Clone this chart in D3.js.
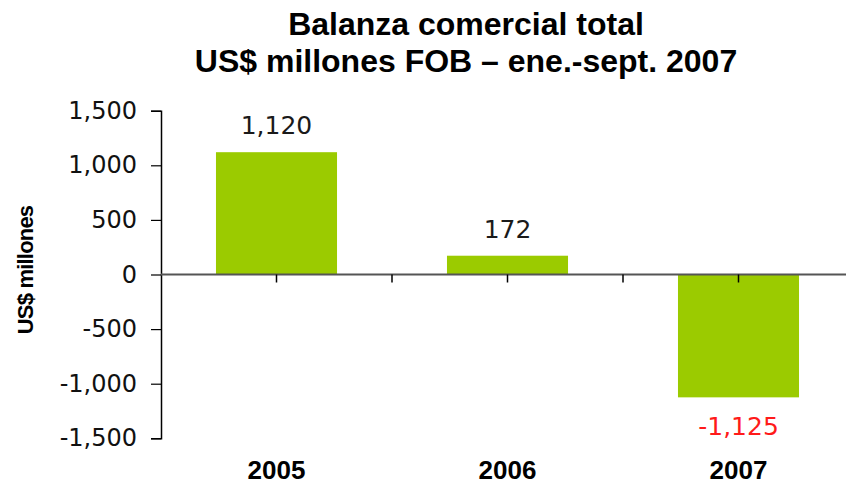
<!DOCTYPE html>
<html>
<head>
<meta charset="utf-8">
<script src="https://cdn.jsdelivr.net/npm/d3@7"></script>
<style>
  body { margin: 0; background: #fff; }
  svg { display: block; }
</style>
</head>
<body>
<svg id="chart" width="846" height="492"></svg>
<script>
// data
const years = ['2005', '2006', '2007']
const balance = [1120, 172, -1125]
const yTicks = [-1500, -1000, -500, 0, 500, 1000, 1500]
const titleLines = ['Balanza comercial total', 'US$ millones FOB – ene.-sept. 2007']

const svg = d3.select('#chart')
const left = 161
const right = 854

// plain hyphen for negatives, comma thousands
const fmt = d3.formatLocale({ decimal: '.', thousands: ',', grouping: [3], currency: ['$', ''], minus: '-' }).format(',')

const x = d3.scaleBand()
  .domain(years)
  .range([left, right])
  .paddingInner(0.476)
  .paddingOuter(0.238)

const y = d3.scaleLinear()
  .domain([-1500, 1500])
  .range([438.3, 110.7])

// title
svg.append('g')
  .selectAll('text')
  .data(titleLines)
  .enter()
  .append('text')
  .attr('x', 466)
  .attr('y', (d, i) => 35 + i * 37)
  .attr('text-anchor', 'middle')
  .style('font-family', 'Liberation Sans, Arial, sans-serif')
  .style('font-weight', 'bold')
  .style('font-size', '32px')
  .text((d) => d)

// bars
svg.append('g')
  .selectAll('rect')
  .data(balance)
  .enter()
  .append('rect')
  .attr('x', (d, i) => x(years[i]))
  .attr('y', (d) => y(Math.max(0, d)))
  .attr('width', x.bandwidth())
  .attr('height', (d) => Math.abs(y(d) - y(0)))
  .attr('fill', '#9bcb00')

// y axis
const yAxis = svg.append('g')
  .attr('transform', `translate(${left},0)`)
  .call(d3.axisLeft(y).tickValues(yTicks).tickFormat(fmt).tickSize(10).tickPadding(14))
yAxis.select('.domain').attr('stroke', '#000').attr('stroke-width', 1.5)
yAxis.selectAll('.tick line').attr('stroke', '#000').attr('stroke-width', 1.2)
yAxis.selectAll('.tick text')
  .style('font-family', 'DejaVu Sans, Verdana, sans-serif')
  .style('font-size', '24px')
  .attr('fill', '#111')

// zero line
svg.append('line')
  .attr('x1', left)
  .attr('x2', 846)
  .attr('y1', y(0))
  .attr('y2', y(0))
  .attr('stroke', '#555')
  .attr('stroke-width', 2)

// category ticks: bar centres and category boundaries
const tickXs = years.map((d) => x(d) + x.bandwidth() / 2)
  .concat(years.slice(1).map((d) => x(d) - x.step() * x.paddingInner() / 2))
svg.append('g')
  .selectAll('line')
  .data(tickXs)
  .enter()
  .append('line')
  .attr('x1', (d) => d)
  .attr('x2', (d) => d)
  .attr('y1', y(0))
  .attr('y2', y(0) + 8)
  .attr('stroke', '#000')
  .attr('stroke-width', 1.5)

// category labels
svg.append('g')
  .selectAll('text')
  .data(years)
  .enter()
  .append('text')
  .attr('x', (d) => x(d) + x.bandwidth() / 2)
  .attr('y', 479)
  .attr('text-anchor', 'middle')
  .style('font-family', 'Liberation Sans, Arial, sans-serif')
  .style('font-weight', 'bold')
  .style('font-size', '26px')
  .text((d) => d)

// value labels
svg.append('g')
  .selectAll('text')
  .data(balance)
  .enter()
  .append('text')
  .attr('x', (d, i) => x(years[i]) + x.bandwidth() / 2)
  .attr('y', (d) => d >= 0 ? y(d) - 18 : y(d) + 38)
  .attr('text-anchor', 'middle')
  .attr('fill', (d) => d >= 0 ? '#1a1a1a' : '#ff1a1a')
  .style('font-family', 'DejaVu Sans, Verdana, sans-serif')
  .style('font-size', '25px')
  .text((d) => fmt(d))

// y axis title
svg.append('text')
  .attr('transform', `translate(33,270) rotate(-90)`)
  .attr('text-anchor', 'middle')
  .style('font-family', 'Liberation Sans, Arial, sans-serif')
  .style('font-weight', 'bold')
  .style('font-size', '22px')
  .style('letter-spacing', '-0.8px')
  .text('US$ millones')
</script>
</body>
</html>
